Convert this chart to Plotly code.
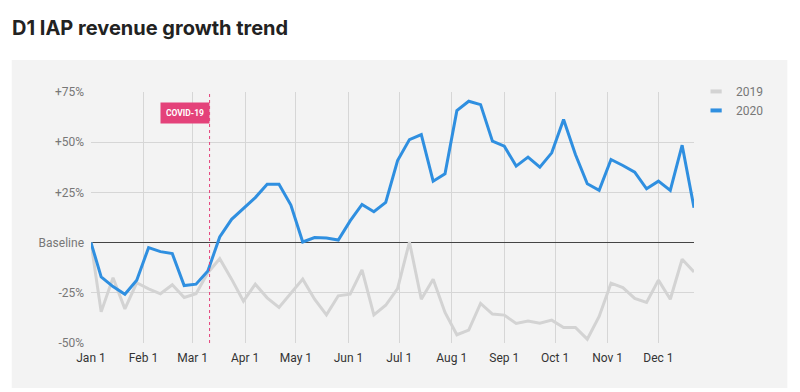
import plotly.graph_objects as go
from datetime import date, timedelta

# ---- data ----
dates = [date(2020, 1, 1)] + [date(2020, 1, 7) + timedelta(days=7 * i) for i in range(51)]
dates = [d.isoformat() for d in dates]

rev_2019 = [0, -34.5, -17.5, -33, -20, -23, -25.5, -21, -27.3, -25.5,
            -15, -8, -18.2, -29.2, -20.7, -27.5, -32.3, -25.5, -18.2, -28.2,
            -36, -26.5, -25.7, -13.6, -36, -31.2, -22.9, 0.3, -28.2, -18.2,
            -34.8, -45.9, -43.6, -30.3, -35.6, -36.1, -40.3, -39.1, -40.2, -38.6,
            -42.3, -42.3, -48.1, -36.8, -20.2, -22.4, -27.8, -29.8, -18.7, -28.2,
            -8.3, -14.6]
rev_2020 = [0, -17.1, -21.9, -25.7, -18.7, -2.5, -4.5, -5.5, -21.4, -20.7,
            -14.1, 2.8, 11.6, 16.8, 22.4, 29, 29, 18.7, 0.3, 2.5,
            2.3, 1.3, 10.8, 19, 15.4, 20, 40.9, 51.3, 53.8, 30.6,
            34.3, 65.7, 70.4, 68.7, 50.5, 48, 38.1, 42.6, 37.6, 44.7,
            61.3, 43.9, 29.3, 26, 41.4, 38.4, 35.1, 26.8, 30.6, 26,
            48.5, 17.4]

month_ticks = ["2020-%02d-01" % m for m in range(1, 13)]
month_labels = ["Jan 1", "Feb 1", "Mar 1", "Apr 1", "May 1", "Jun 1",
                "Jul 1", "Aug 1", "Sep 1", "Oct 1", "Nov 1", "Dec 1"]
y_ticks = [-50, -25, 0, 25, 50, 75]
y_labels = ["-50%", "-25%", "Baseline", "+25%", "+50%", "+75%"]
covid_date = "2020-03-11"

C2019 = "#d3d3d3"
C2020 = "#2f8fe0"
PINK = "#e4427a"

fig = go.Figure()
fig.add_trace(go.Scatter(x=dates, y=rev_2019, mode="lines", name="2019",
                         line=dict(color=C2019, width=3), showlegend=False))
fig.add_trace(go.Scatter(x=dates, y=rev_2020, mode="lines", name="2020",
                         line=dict(color=C2020, width=3), showlegend=False))
# legend entries
for nm, col in (("2019", C2019), ("2020", C2020)):
    fig.add_trace(go.Scatter(x=[None], y=[None], mode="markers", name=nm,
                             marker=dict(symbol="line-ew", size=8,
                                         line=dict(color=col, width=4))))

# panel background
fig.add_shape(type="rect", xref="paper", yref="paper",
              x0=-0.1314, x1=1.1548, y0=-0.1793, y1=1.1275,
              fillcolor="#f3f3f3", line=dict(width=0), layer="below")
# covid line
fig.add_shape(type="line", xref="x", yref="paper", x0=covid_date, x1=covid_date,
              y0=0, y1=1, line=dict(color=PINK, width=1, dash="dot"))
fig.add_annotation(x=covid_date, y=70.2, xref="x", yref="y", xanchor="right",
                   yanchor="top", text="<b>COVID-19</b>", showarrow=False,
                   font=dict(family="Roboto", size=8.5, color="white"),
                   bgcolor=PINK, borderpad=5, width=38, height=10)

fig.update_layout(
    width=800, height=392,
    margin=dict(l=91, r=106, t=92, b=49),
    paper_bgcolor="white",
    plot_bgcolor="#f3f3f3",
    font=dict(family="Roboto", size=12, color="#777"),
    title=dict(text="<b>D1 IAP revenue growth trend</b>", x=12 / 800, xref="container",
               xanchor="left", y=1 - 28 / 392, yref="container", yanchor="middle",
               font=dict(family="Inter", size=20, color="#222")),
    legend=dict(x=1.0035, xanchor="left", y=1.06, yanchor="top",
                font=dict(size=12, color="#777"), bgcolor="rgba(0,0,0,0)",
                itemwidth=30, tracegroupgap=0),
    showlegend=True,
)
fig.update_xaxes(range=[dates[0], dates[-1]], tickvals=month_ticks, ticktext=month_labels,
                 showgrid=True, gridcolor="#d6d6d6", gridwidth=1, zeroline=False,
                 ticks="", tickfont=dict(color="#333", size=12), ticklabelstandoff=6,
                 showline=False)
fig.update_yaxes(range=[-50, 75], tickvals=y_ticks, ticktext=y_labels,
                 showgrid=True, gridcolor="#d6d6d6", gridwidth=1,
                 zeroline=True, zerolinecolor="#444", zerolinewidth=1,
                 ticks="", tickfont=dict(color="#777", size=12), ticklabelstandoff=6)

fig.write_html("out.html", config={"displayModeBar": False},
               post_script="document.body.style.margin='0';")
